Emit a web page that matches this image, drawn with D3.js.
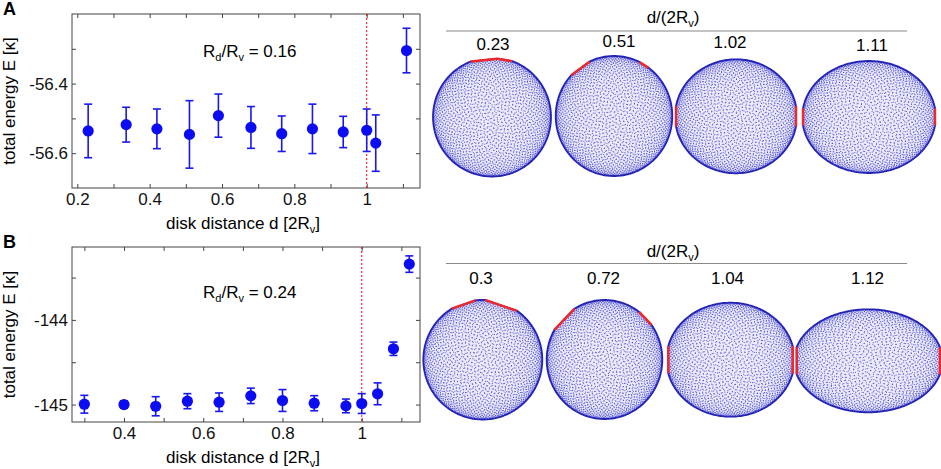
<!DOCTYPE html>
<html>
<head>
<meta charset="utf-8">
<script src="https://cdn.jsdelivr.net/npm/d3@7"></script>
<style>
  body { margin: 0; background: #fff; }
  text { font-family: "Liberation Sans", Arial, sans-serif; }
</style>
</head>
<body>
<div id="chart"></div>
<script>
// Panel A data (R_d/R_v = 0.16)
const xA = [0.23, 0.335, 0.42, 0.51, 0.59, 0.68, 0.765, 0.85, 0.935, 1.0, 1.025, 1.11];
const yA = [-56.536, -56.518, -56.530, -56.546, -56.492, -56.526, -56.544, -56.530, -56.539, -56.534, -56.571, -56.305];
const errA = [0.077, 0.05, 0.057, 0.097, 0.062, 0.06, 0.051, 0.071, 0.045, 0.061, 0.081, 0.064];

// Panel B data (R_d/R_v = 0.24)
const xB = [0.3, 0.4, 0.48, 0.56, 0.64, 0.72, 0.8, 0.88, 0.96, 1.0, 1.04, 1.08, 1.12];
const yB = [-144.996, -145.0, -145.02, -144.96, -144.972, -144.897, -144.952, -144.984, -145.016, -144.988, -144.873, -144.341, -143.341];
const errB = [0.105, 0.042, 0.113, 0.089, 0.109, 0.091, 0.129, 0.089, 0.081, 0.117, 0.129, 0.079, 0.097];

const ratioA = "0.16";
const ratioB = "0.24";

// ticks
const xTicksA = [0.2, 0.3, 0.4, 0.5, 0.6, 0.7, 0.8, 0.9, 1.0, 1.1];
const xLabelsA = [0.2, 0.4, 0.6, 0.8, 1];
const yTicksA = [-56.6, -56.5, -56.4, -56.3];
const yLabelsA = [-56.6, -56.4];

const xTicksB = [0.3, 0.4, 0.5, 0.6, 0.7, 0.8, 0.9, 1.0, 1.1];
const xLabelsB = [0.4, 0.6, 0.8, 1];
const yTicksB = [-145, -144.5, -144, -143.5];
const yLabelsB = [-145, -144];

// snapshot labels d/(2R_v)
const snapA = [0.23, 0.51, 1.02, 1.11];
const snapB = [0.3, 0.72, 1.04, 1.12];

const W = 941, H = 469;
const svg = d3.select("#chart").append("svg")
  .attr("width", W).attr("height", H);
const defs = svg.append("defs");

const fmt = v => String(+v.toFixed(3));
const has = (arr, v) => arr.some(a => Math.abs(a - v) < 1e-9);

function drawPanel(o) {
  const w = 348;
  const g = svg.append("g").attr("transform", `translate(72,${o.top})`);
  const x = d3.scaleLinear().domain(o.xDomain).range([0, w]);
  const y = d3.scaleLinear().domain(o.yDomain).range([o.h, 0]);

  // axes, MATLAB style inward ticks on all sides
  const axes = [
    g.append("g").attr("transform", `translate(0,${o.h})`)
      .call(d3.axisBottom(x).tickValues(o.xTicks).tickSizeInner(-4).tickSizeOuter(0).tickPadding(5)
        .tickFormat(v => has(o.xLabels, v) ? fmt(v) : "")),
    g.append("g")
      .call(d3.axisTop(x).tickValues(o.xTicks).tickSizeInner(-4).tickSizeOuter(0).tickFormat("")),
    g.append("g")
      .call(d3.axisLeft(y).tickValues(o.yTicks).tickSizeInner(-4).tickSizeOuter(0).tickPadding(4)
        .tickFormat(v => has(o.yLabels, v) ? fmt(v) : "")),
    g.append("g").attr("transform", `translate(${w},0)`)
      .call(d3.axisRight(y).tickValues(o.yTicks).tickSizeInner(-4).tickSizeOuter(0).tickFormat(""))
  ];
  axes.forEach(a => {
    a.select(".domain").remove();
    a.selectAll("line").attr("stroke", "#444");
    a.selectAll("text").attr("font-size", 17).attr("fill", "#111")
      .style("font-family", "'Liberation Sans', Arial, sans-serif");
  });

  g.append("rect").attr("width", w).attr("height", o.h)
    .attr("fill", "none").attr("stroke", "#444").attr("stroke-width", 1);

  // reference line at d = 2R_v
  g.append("line")
    .attr("x1", x(1)).attr("x2", x(1)).attr("y1", 0).attr("y2", o.h)
    .attr("stroke", "#f00").attr("stroke-width", 1).attr("stroke-dasharray", "2,2");

  const pts = o.xs.map((d, i) => ({ x: d, y: o.ys[i], e: o.es[i] }));
  const eb = g.append("g").attr("stroke", "#1818ee").attr("stroke-width", 1.6);
  pts.forEach(p => {
    const cx = x(p.x), y0 = y(p.y - p.e), y1 = y(p.y + p.e);
    eb.append("line").attr("x1", cx).attr("x2", cx).attr("y1", y0).attr("y2", y1);
    eb.append("line").attr("x1", cx - 4).attr("x2", cx + 4).attr("y1", y0).attr("y2", y0);
    eb.append("line").attr("x1", cx - 4).attr("x2", cx + 4).attr("y1", y1).attr("y2", y1);
  });
  g.append("g").selectAll("circle").data(pts).join("circle")
    .attr("cx", d => x(d.x)).attr("cy", d => y(d.y)).attr("r", 5.6)
    .attr("fill", "#0c0cf2");

  // ratio annotation
  const t = g.append("text").attr("x", 131).attr("y", o.annY).attr("font-size", 17);
  t.append("tspan").text("R");
  t.append("tspan").attr("font-size", 11).attr("dy", 4).text("d");
  t.append("tspan").attr("dy", -4).text("/R");
  t.append("tspan").attr("font-size", 11).attr("dy", 4).text("v");
  t.append("tspan").attr("dy", -4).text(" = " + o.ratio);

  // axis labels
  svg.append("text")
    .attr("transform", `translate(14.5,${o.top + o.h / 2}) rotate(-90)`)
    .attr("text-anchor", "middle").attr("font-size", 17)
    .text("total energy E [\u03ba]");
  const xl = svg.append("text").attr("x", 243).attr("y", o.top + o.h + 41)
    .attr("text-anchor", "middle").attr("font-size", 17);
  xl.append("tspan").text("disk distance d [2R");
  xl.append("tspan").attr("font-size", 11).attr("dy", 4).text("v");
  xl.append("tspan").attr("dy", -4).text("]");

  svg.append("text").attr("x", 3).attr("y", o.top + 1)
    .attr("font-size", 18).attr("font-weight", "bold").text(o.letter);
}

drawPanel({
  top: 14, h: 174, letter: "A",
  xDomain: [0.1853, 1.1473], yDomain: [-56.7, -56.2],
  xTicks: xTicksA, xLabels: xLabelsA, yTicks: yTicksA, yLabels: yLabelsA,
  xs: xA, ys: yA, es: errA, ratio: ratioA, annY: 42.7
});
drawPanel({
  top: 247, h: 175, letter: "B",
  xDomain: [0.2688, 1.147], yDomain: [-145.206, -143.139],
  xTicks: xTicksB, xLabels: xLabelsB, yTicks: yTicksB, yLabels: yLabelsB,
  xs: xB, ys: yB, es: errB, ratio: ratioB, annY: 51
});

// ---- vesicle snapshots ----
// Fibonacci sphere points, projected, give the mesh-node look
const NPTS = 3400;
const ga = Math.PI * (3 - Math.sqrt(5));
const sphere = d3.range(NPTS).map(i => {
  const z = 1 - (2 * i + 1) / NPTS;
  const r = Math.sqrt(1 - z * z);
  return [r * Math.cos(i * ga), r * Math.sin(i * ga)];
});

function lineCoef(seg, c) {
  const [p1, p2] = seg;
  let a = p1[1] - p2[1], b = p2[0] - p1[0];
  const n = Math.hypot(a, b);
  a /= n; b /= n;
  let cc = -(a * p1[0] + b * p1[1]);
  if (a * c[0] + b * c[1] + cc < 0) { a = -a; b = -b; cc = -cc; }
  return p => a * p[0] + b * p[1] + cc;
}

function clipPoly(poly, seg, c) {
  const f = lineCoef(seg, c);
  const out = [];
  const n = poly.length;
  for (let i = 0; i < n; i++) {
    const cur = poly[i], prev = poly[(i - 1 + n) % n];
    const fc = f(cur), fp = f(prev);
    const cross = () => {
      const t = fp / (fp - fc);
      return [prev[0] + t * (cur[0] - prev[0]), prev[1] + t * (cur[1] - prev[1])];
    };
    if (fc >= 0) {
      if (fp < 0) out.push(cross());
      out.push(cur);
    } else if (fp >= 0) out.push(cross());
  }
  return out;
}

let vid = 0;
function drawVesicle(s) {
  let poly = d3.range(240).map(i => {
    const t = i / 240 * 2 * Math.PI;
    return [s.cx + s.rx * Math.cos(t), s.cy + s.ry * Math.sin(t)];
  });
  s.cuts.forEach(c => { poly = clipPoly(poly, c, [s.cx, s.cy]); });
  const d = "M" + poly.map(p => p[0] + "," + p[1]).join("L") + "Z";
  const id = "ves" + (vid++);
  defs.append("clipPath").attr("id", id).append("path").attr("d", d);
  const g = svg.append("g");
  const inner = g.append("g").attr("clip-path", `url(#${id})`);
  inner.append("path").attr("d", d).attr("fill", "#eaeaf8");
  inner.append("g").attr("fill", "#3434d2").attr("fill-opacity", 0.78)
    .selectAll("circle").data(sphere).join("circle")
    .attr("cx", p => s.cx + s.rx * p[0]).attr("cy", p => s.cy + s.ry * p[1]).attr("r", 0.6);
  g.append("path").attr("d", d).attr("fill", "none")
    .attr("stroke", "#2424b4").attr("stroke-width", 1.8);
  // red disks: polygon vertices lying on each cut line
  s.cuts.forEach(c => {
    const f = lineCoef(c, [s.cx, s.cy]);
    const on = poly.filter(p => Math.abs(f(p)) < 1e-6);
    if (on.length >= 2) {
      const dir = [c[1][0] - c[0][0], c[1][1] - c[0][1]];
      const ext = d3.extent(on, p => p[0] * dir[0] + p[1] * dir[1]);
      const a = on.find(p => p[0] * dir[0] + p[1] * dir[1] === ext[0]);
      const b = on.find(p => p[0] * dir[0] + p[1] * dir[1] === ext[1]);
      g.append("line")
        .attr("x1", a[0]).attr("y1", a[1]).attr("x2", b[0]).attr("y2", b[1])
        .attr("stroke", "#f0282a").attr("stroke-width", 2.4);
    }
  });
}

const vert = xx => [[xx, 0], [xx, 1]];

function drawSnapshots(o) {
  // header
  const h = svg.append("text").attr("x", 673).attr("y", o.headY)
    .attr("text-anchor", "middle").attr("font-size", 17);
  h.append("tspan").text("d/(2R");
  h.append("tspan").attr("font-size", 11).attr("dy", 4).text("v");
  h.append("tspan").attr("dy", -4).text(")");
  svg.append("line").attr("x1", 446).attr("x2", 907).attr("y1", o.lineY).attr("y2", o.lineY)
    .attr("stroke", "#888").attr("stroke-width", 1.2);
  o.labels.forEach((v, i) => {
    svg.append("text").attr("x", o.labelX[i]).attr("y", o.labelY[i])
      .attr("text-anchor", "middle").attr("font-size", 17).text(fmt(v));
  });
  o.shapes.forEach(drawVesicle);
}

drawSnapshots({
  headY: 22.5, lineY: 31,
  labels: snapA, labelX: [493, 619, 730, 872], labelY: [50, 46.5, 48, 50.5],
  shapes: [
    { cx: 492, cy: 117, rx: 59, ry: 59.5, cuts: [[[471, 61.5], [495, 59]], [[499, 59], [518, 62]]] },
    { cx: 614, cy: 116, rx: 58.3, ry: 60, cuts: [[[577.3, 70.7], [591.7, 60]], [[637.3, 60.7], [652.3, 70]]] },
    { cx: 736, cy: 116.3, rx: 61, ry: 57, cuts: [vert(676), vert(796)] },
    { cx: 869, cy: 117, rx: 66.8, ry: 56, cuts: [vert(803), vert(935)] }
  ]
});
drawSnapshots({
  headY: 256.5, lineY: 263.5,
  labels: snapB, labelX: [481, 603.5, 727.5, 867.5], labelY: [283.5, 283.5, 283.5, 283.5],
  shapes: [
    { cx: 482.8, cy: 359.7, rx: 59.5, ry: 59.8, cuts: [[[450.7, 309], [475, 300.5]], [[486.7, 300.5], [511.7, 309]]] },
    { cx: 604.5, cy: 359.5, rx: 57.8, ry: 59.5, cuts: [[[553.3, 331], [572.3, 311]], [[638.3, 311], [657.3, 331]]] },
    { cx: 730.5, cy: 359.7, rx: 64.1, ry: 57, cuts: [vert(668.3), vert(792.7)] },
    { cx: 868.3, cy: 360.8, rx: 74.3, ry: 51.5, cuts: [vert(796.7), vert(940)] }
  ]
});
</script>
</body>
</html>
